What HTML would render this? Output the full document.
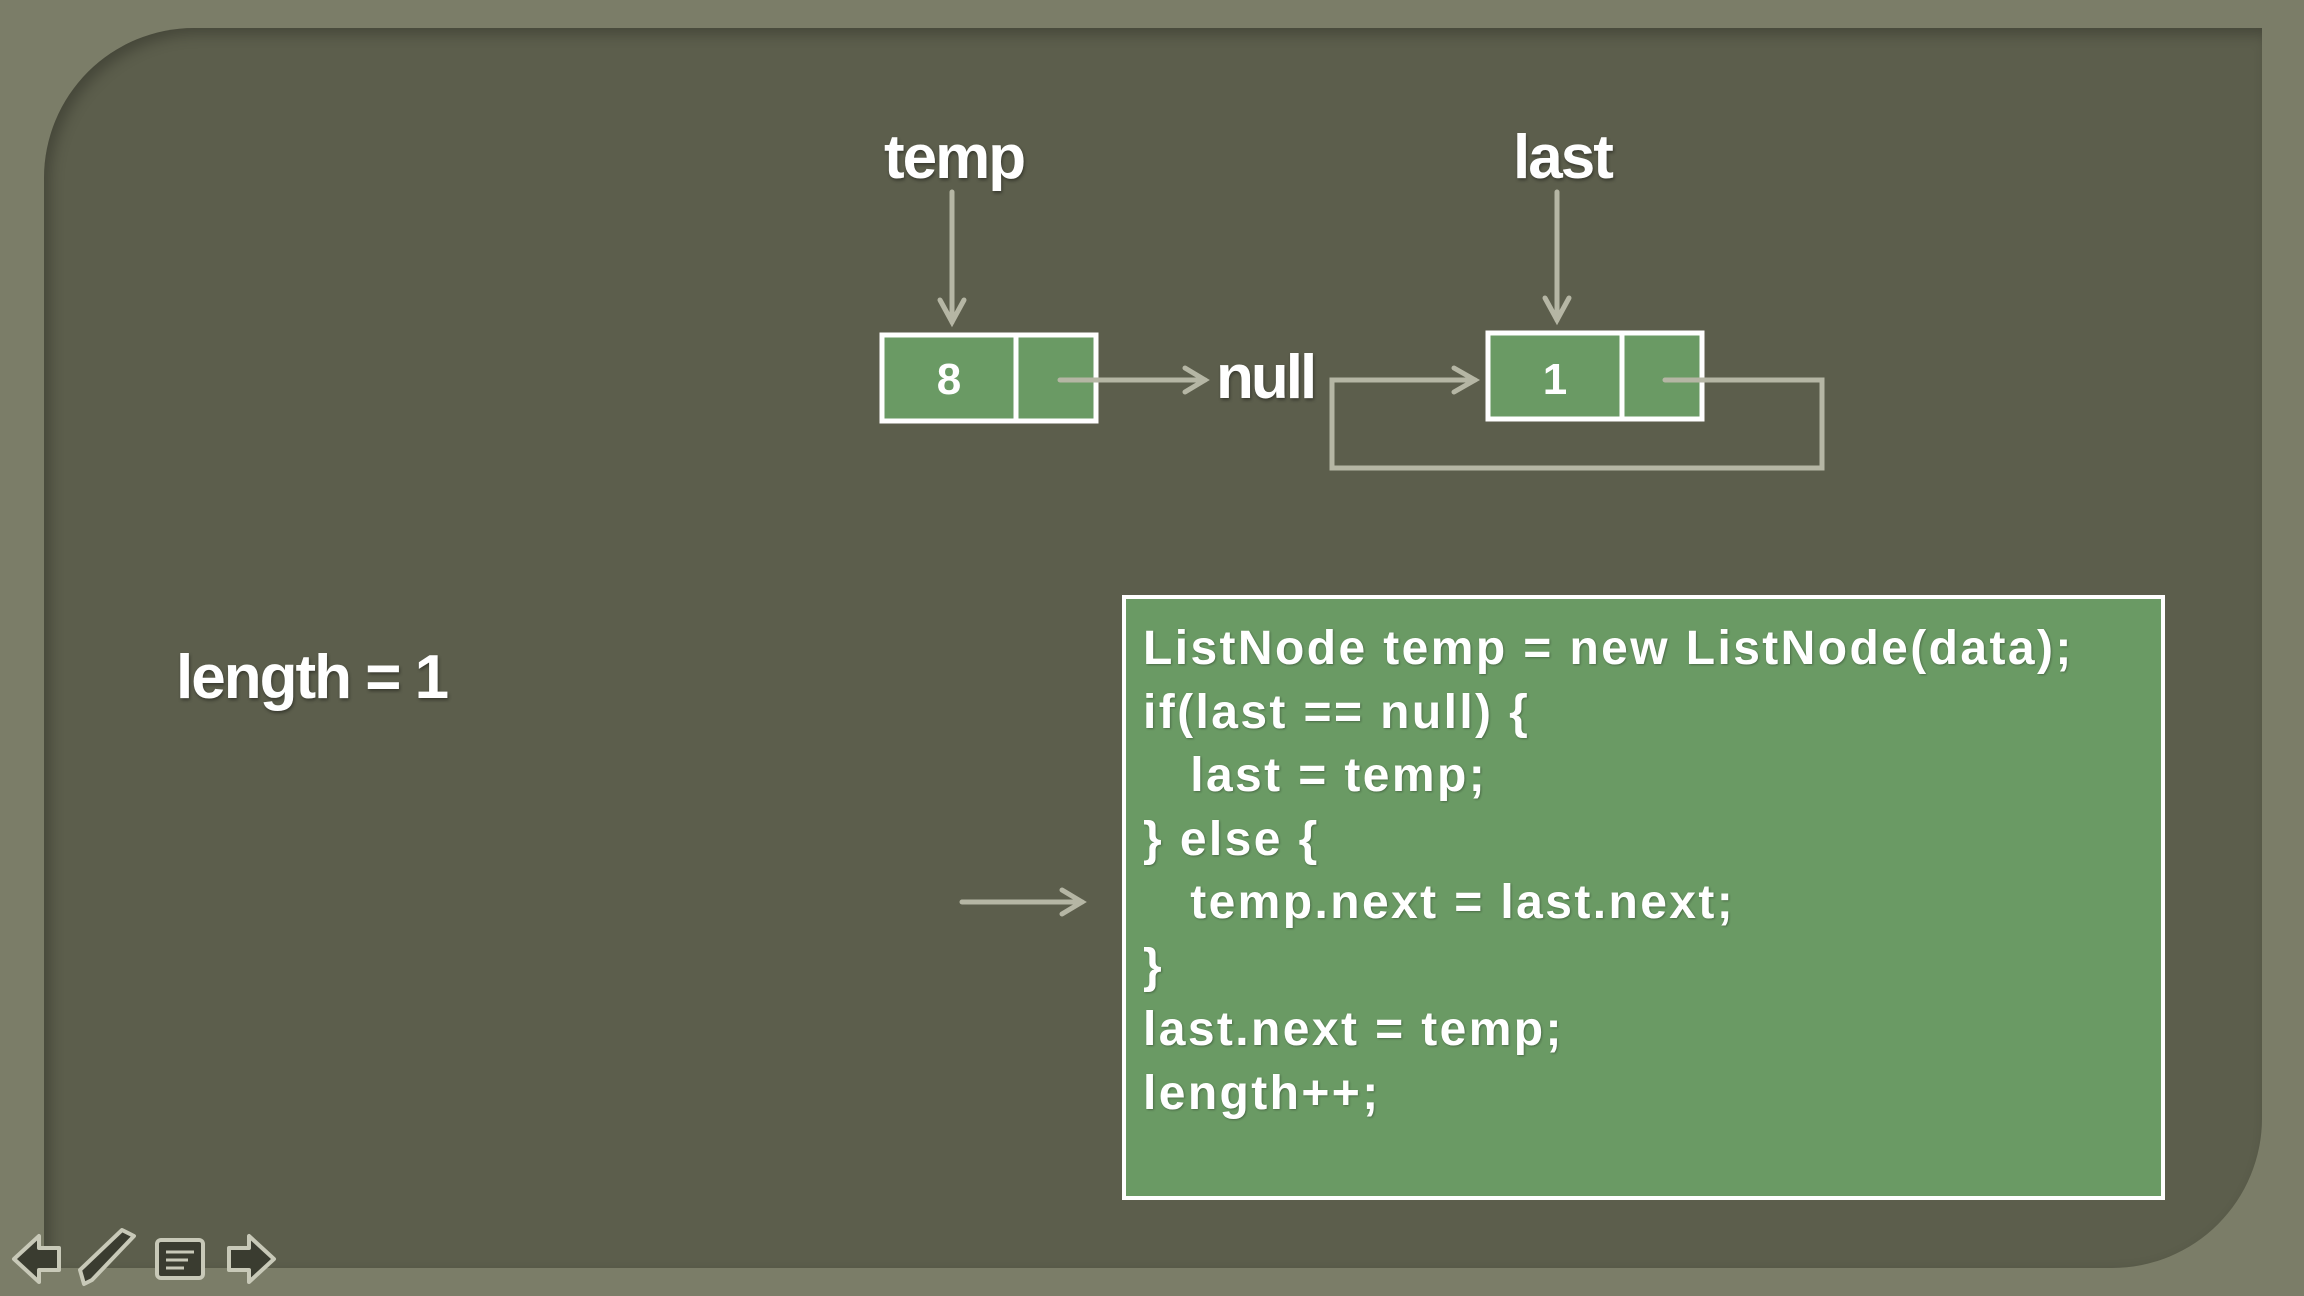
<!DOCTYPE html>
<html><head><style>
html,body{margin:0;padding:0}
body{width:2304px;height:1296px;background:#7b7d68;position:relative;overflow:hidden;font-family:"Liberation Sans",Arial,sans-serif}
.board{position:absolute;left:44px;top:28px;width:2218px;height:1240px;background:#5c5e4c;border-radius:150px 0 150px 0;box-shadow:inset 6px 6px 14px rgba(0,0,0,.25)}
.t{position:absolute;color:#fff;font-weight:bold;text-shadow:1px 2px 3px rgba(0,0,0,.4);white-space:pre;line-height:1}
.code{position:absolute;left:1122px;top:595px;width:1035px;height:597px;background:#6a9a64;border:4px solid #fff}
.code div{position:absolute;left:17px;color:#fff;font-weight:bold;font-size:48px;letter-spacing:2.4px;white-space:pre;text-shadow:1px 1px 2px rgba(0,0,0,.3)}
</style></head><body>
<div class="board"></div>
<div class="t" style="left:884px;top:127px;font-size:62px;letter-spacing:-2px">temp</div>
<div class="t" style="left:1513px;top:127px;font-size:62px;letter-spacing:-2px">last</div>
<div class="t" style="left:1216px;top:347px;font-size:62px;letter-spacing:-3px">null</div>
<div class="t" style="left:176px;top:647px;font-size:62px;letter-spacing:-2px">length = 1</div>
<svg width="2304" height="1296" style="position:absolute;left:0;top:0">
<g stroke="#fff" stroke-width="5" fill="#6a9a64">
<rect x="882" y="335" width="214" height="86"/>
<line x1="1016" y1="335" x2="1016" y2="421"/>
<rect x="1488" y="333" width="214" height="86"/>
<line x1="1622" y1="333" x2="1622" y2="419"/>
</g>
<text x="949" y="394" fill="#fff" font-size="44" font-weight="bold" text-anchor="middle" font-family="Liberation Sans">8</text>
<text x="1555" y="394" fill="#fff" font-size="44" font-weight="bold" text-anchor="middle" font-family="Liberation Sans">1</text>
<g stroke="#b5b6a4" stroke-width="5" fill="none" stroke-linecap="round">
<line x1="952" y1="192" x2="952" y2="322"/><polyline points="940,300 952,322 964,300"/>
<line x1="1557" y1="192" x2="1557" y2="320"/><polyline points="1545,298 1557,320 1569,298"/>
<line x1="1060" y1="380" x2="1205" y2="380"/><polyline points="1185,368 1205,380 1185,392"/>
<polyline points="1475,380 1332,380 1332,468 1822,468 1822,380 1665,380"/><polyline points="1454,368 1475,380 1454,392"/>
<line x1="962" y1="902" x2="1082" y2="902"/><polyline points="1062,890 1082,902 1062,914"/>
</g>
<g stroke="#c8c9b8" stroke-width="4" fill="#3a3c30" stroke-linejoin="round">
<polygon points="14,1259 39,1236 39,1248 59,1248 59,1270 39,1270 39,1282"/>
<polygon points="274,1259 249,1236 249,1248 229,1248 229,1270 249,1270 249,1282"/>
<rect x="157" y="1240" width="46" height="38" rx="4"/>
<polygon points="84,1284 80,1270 122,1230 134,1236 92,1280"/>
</g>
<g stroke="#c8c9b8" stroke-width="3"><line x1="166" y1="1252" x2="194" y2="1252"/><line x1="166" y1="1260" x2="188" y2="1260"/><line x1="166" y1="1268" x2="184" y2="1268"/></g>
</svg>
<div class="code">
<div style="top:22px">ListNode temp = new ListNode(data);</div>
<div style="top:86px">if(last == null) {</div>
<div style="top:149px">   last = temp;</div>
<div style="top:213px">} else {</div>
<div style="top:276px">   temp.next = last.next;</div>
<div style="top:340px">}</div>
<div style="top:403px">last.next = temp;</div>
<div style="top:467px">length++;</div>
</div>
</body></html>
